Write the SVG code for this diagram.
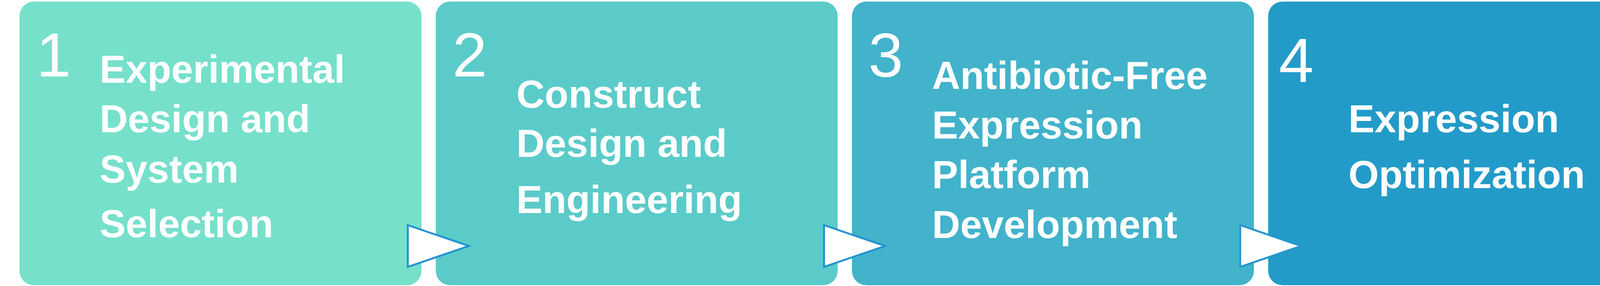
<svg xmlns="http://www.w3.org/2000/svg" width="6409" height="733" viewBox="0 0 6409 733">
<style>
.box{stroke:none}
.num{font-family:"Liberation Sans",Arial,sans-serif;font-size:160px;fill:#ffffff}
.lbl{font-family:"Liberation Sans",Arial,sans-serif;font-size:100px;font-weight:bold;fill:#ffffff}
.arr{fill:#ffffff;stroke-width:5;stroke-linejoin:miter}
</style>
<rect width="6409" height="733" fill="#ffffff"/>
<g id="node1">
<rect class="box" x="50" y="4" width="1029" height="727" rx="37" fill="#76E0CB"/>
<text class="num" x="93" y="196">1</text>
<text class="lbl"><tspan x="255" y="212">Experimental</tspan><tspan x="255" y="339">Design and</tspan><tspan x="255" y="468">System</tspan><tspan x="255" y="608">Selection</tspan></text>
</g>
<g id="node2">
<rect class="box" x="1115.5" y="4" width="1029" height="727" rx="37" fill="#5BCBC9"/>
<text class="num" x="1158" y="196">2</text>
<text class="lbl"><tspan x="1322" y="276">Construct</tspan><tspan x="1322" y="402">Design and</tspan><tspan x="1322" y="546">Engineering</tspan></text>
</g>
<g id="node3">
<rect class="box" x="2181" y="4" width="1029" height="727" rx="37" fill="#42B3CB"/>
<text class="num" x="2223" y="196">3</text>
<text class="lbl"><tspan x="2386" y="228">Antibiotic-Free</tspan><tspan x="2386" y="355">Expression</tspan><tspan x="2386" y="482">Platform</tspan><tspan x="2386" y="610">Development</tspan></text>
</g>
<g id="node4">
<rect class="box" x="3246.5" y="4" width="1029" height="727" rx="37" fill="#239BC9"/>
<text class="num" x="3274" y="210">4</text>
<text class="lbl"><tspan x="3452" y="339">Expression</tspan><tspan x="3452" y="482">Optimization</tspan></text>
</g>
<g id="node5">
<rect class="box" x="4312" y="4" width="1029" height="727" rx="37" fill="#0F89CA"/>
<text class="num" x="4355" y="197">5</text>
<text class="lbl"><tspan x="4517" y="339">Protein</tspan><tspan x="4517" y="482">Purification</tspan></text>
</g>
<g id="node6">
<rect class="box" x="5378" y="4" width="1029" height="727" rx="37" fill="#0F89CA"/>
<text class="num" x="5496" y="197">6</text>
<text class="lbl"><tspan x="5586" y="339">Quality Control</tspan><tspan x="5586" y="482">and Validation</tspan></text>
</g>
<g id="connectors">
<polygon class="arr" stroke="#2293D0" points="1044,577 1200,630.5 1044,684"/>
<polygon class="arr" stroke="#2293D0" points="2109.5,577 2265.5,630.5 2109.5,684"/>
<polygon class="arr" stroke="#2596CD" points="3175,577 3331,630.5 3175,684"/>
<polygon class="arr" stroke="#259BCB" points="4240.5,577 4396.5,630.5 4240.5,684"/>
<polygon class="arr" stroke="#5670C6" points="5306,577 5462,630.5 5306,684"/>
</g>
</svg>
